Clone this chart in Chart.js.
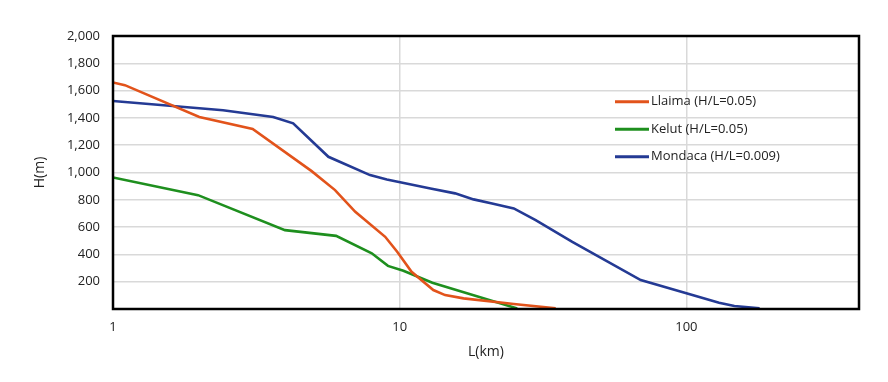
<!DOCTYPE html>
<html>
<head>
<meta charset="utf-8">
<script src="https://cdn.jsdelivr.net/npm/chart.js@4/dist/chart.umd.min.js"></script>
<style>
    html, body { margin: 0; padding: 0; background: #fff; }
    #wrap { width: 888px; height: 382px; }
</style>
</head>
<body>
<div id="wrap"><canvas id="runoutChart" width="888" height="382"></canvas></div>
<script>
// ============================
// DATA (L in km, H in m)
// ============================
const llaimaL = [1, 1.1, 2, 3.07, 4.93, 5.95, 7.0, 8.9, 9.8, 11.0, 13.1, 14.4, 16.7, 25, 35];
const llaimaH = [1660, 1640, 1407, 1319, 1010, 871, 712, 529, 419, 273, 139, 102, 78, 37, 5];

const kelutL = [1, 1.98, 3.98, 6.0, 7.99, 9.1, 10.3, 13.0, 25.7];
const kelutH = [964, 834, 578, 536, 408, 316, 280, 192, 4];

const mondacaL = [1, 2.42, 3.62, 4.25, 5.64, 7.88, 9.02, 12.8, 15.6, 18.1, 21, 25, 29.8, 40, 69.3, 100, 130, 147, 180];
const mondacaH = [1524, 1456, 1407, 1360, 1115, 981, 949, 883, 847, 803, 773, 737, 651, 492, 212, 115, 46, 22, 5];

const seriesNames = ['Llaima (H/L=0.05)', 'Kelut (H/L=0.05)', 'Mondaca (H/L=0.009)'];
const xTicks = [1, 10, 100];
const yTicks = [0, 200, 400, 600, 800, 1000, 1200, 1400, 1600, 1800, 2000];

const FONT = "'Open Sans', 'Noto Sans', sans-serif";
const TEXT = '#222';
const GRID = '#d9d9d9';

const toPoints = (xs, ys) => xs.map((x, i) => ({ x: x, y: ys[i] }));


// ============================
// PLUGINS: frame + inset legend
// ============================
const framePlugin = {
    id: 'frame',
    afterDatasetsDraw(chart) {
        const { ctx, chartArea: a } = chart;
        ctx.save();
        ctx.strokeStyle = '#000';
        ctx.lineWidth = 2.5;
        ctx.strokeRect(a.left, a.top, a.right - a.left, a.bottom - a.top);
        ctx.restore();
    }
};

const insetLegend = {
    id: 'insetLegend',
    afterDraw(chart) {
        const ctx = chart.ctx;
        const x0 = 615, lineLen = 34, rowY = [101.7, 129.3, 156.7];
        ctx.save();
        ctx.font = '13px ' + FONT;
        ctx.textBaseline = 'middle';
        ctx.fillStyle = TEXT;
        chart.data.datasets.forEach((ds, i) => {
            ctx.strokeStyle = ds.borderColor;
            ctx.lineWidth = 3;
            ctx.beginPath();
            ctx.moveTo(x0, rowY[i]);
            ctx.lineTo(x0 + lineLen, rowY[i]);
            ctx.stroke();
            ctx.fillText(ds.label, x0 + lineLen + 2, rowY[i]);
        });
        ctx.restore();
    }
};


// ============================
// CHART
// ============================
const ctx = document.getElementById('runoutChart');

const lineStyle = (color) => ({
    borderColor: color,
    backgroundColor: color,
    borderWidth: 2.6,
    pointRadius: 0,
    tension: 0,
    fill: false
});

new Chart(ctx, {
    type: 'line',
    data: {
        datasets: [
            { label: seriesNames[0], data: toPoints(llaimaL, llaimaH), ...lineStyle('#e2531b') },
            { label: seriesNames[1], data: toPoints(kelutL, kelutH), ...lineStyle('#1e8f1e') },
            { label: seriesNames[2], data: toPoints(mondacaL, mondacaH), ...lineStyle('#243a94') }
        ]
    },
    options: {
        responsive: false,
        animation: false,
        devicePixelRatio: 1,
        layout: { padding: { top: 36, right: 29, left: 0, bottom: 0 } },
        plugins: {
            legend: { display: false },
            tooltip: { enabled: false }
        },
        scales: {
            x: {
                type: 'logarithmic',
                min: 1,
                max: 400,
                afterBuildTicks: (scale) => { scale.ticks = xTicks.map(v => ({ value: v })); },
                afterFit: (scale) => { scale.height = 73; },
                ticks: {
                    autoSkip: false,
                    maxRotation: 0,
                    padding: 10,
                    color: TEXT,
                    font: { family: FONT, size: 13 },
                    callback: (v) => String(v)
                },
                grid: { color: GRID, lineWidth: 1.5, drawTicks: false },
                border: { display: false },
                title: {
                    display: true,
                    text: 'L(km)',
                    color: TEXT,
                    font: { family: FONT, size: 14 },
                    padding: { top: 0, bottom: 22 }
                }
            },
            y: {
                type: 'linear',
                min: 0,
                max: 2000,
                afterBuildTicks: (scale) => { scale.ticks = yTicks.map(v => ({ value: v })); },
                afterFit: (scale) => { scale.width = 113; },
                ticks: {
                    padding: 13,
                    color: TEXT,
                    font: { family: FONT, size: 13 },
                    callback: (v) => v === 0 ? '' : v.toLocaleString('en-US')
                },
                grid: { color: GRID, lineWidth: 1.5, drawTicks: false },
                border: { display: false },
                title: {
                    display: true,
                    text: 'H(m)',
                    color: TEXT,
                    font: { family: FONT, size: 14 },
                    padding: { top: 32, bottom: 0 }
                }
            }
        }
    },
    plugins: [framePlugin, insetLegend]
});
</script>
</body>
</html>
